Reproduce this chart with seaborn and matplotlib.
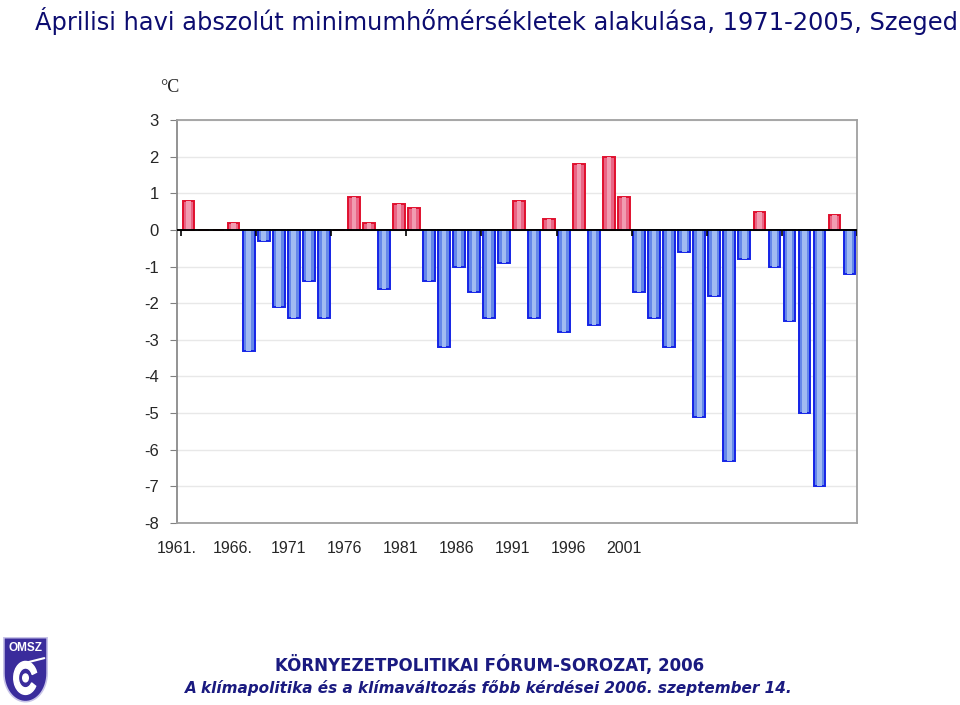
import matplotlib
matplotlib.use("Agg")
import matplotlib.pyplot as plt
from matplotlib.patches import Polygon, Circle, Wedge
import numpy as np
import pandas as pd
import seaborn as sns

# Áprilisi abszolút minimumok, Szeged (°C)
years = list(range(1961, 2006))
tmin = [0.8, 0.0, 0.0, 0.2, -3.3, -0.3, -2.1, -2.4, -1.4, -2.4,
        0.0, 0.9, 0.2, -1.6, 0.7, 0.6, -1.4, -3.2, -1.0, -1.7,
        -2.4, -0.9, 0.8, -2.4, 0.3, -2.8, 1.8, -2.6, 2.0, 0.9,
        -1.7, -2.4, -3.2, -0.6, -5.1, -1.8, -6.3, -0.8, 0.5, -1.0,
        -2.5, -5.0, -7.0, 0.4, -1.2]
x_labels = ["1961.", "1966.", "1971", "1976", "1981", "1986", "1991", "1996", "2001"]
y_ticks = list(range(-8, 4))

title = "Áprilisi havi abszolút minimumhőmérsékletek alakulása, 1971-2005, Szeged"
footer1 = "KÖRNYEZETPOLITIKAI FÓRUM-SOROZAT, 2006"
footer2 = "A klímapolitika és a klímaváltozás főbb kérdései 2006. szeptember 14."

df = pd.DataFrame({"year": [str(y) for y in years], "tmin": tmin})
df["sign"] = np.where(df["tmin"] >= 0, "pos", "neg")

sns.set_style("white")
plt.rcParams['font.family'] = ['Liberation Sans', 'DejaVu Sans']
plt.rcParams['axes.unicode_minus'] = False

W, H = 960, 705
fig = plt.figure(figsize=(9.6, 7.05), dpi=100)
ax = fig.add_axes([177 / W, 1 - 523 / H, 680 / W, 403 / H])

# alap oszlopok + világosabb középcsík (Excel-szerű árnyalás)
sns.barplot(data=df, x="year", y="tmin", hue="sign", dodge=False,
            palette={"pos": "#ff4f7a", "neg": "#4f7cff"}, width=0.78,
            errorbar=None, legend=False, linewidth=1.4, ax=ax, zorder=2)
for p in ax.patches:
    p.set_edgecolor("#e0102e" if p.get_height() >= 0 else "#1424e6")
sns.barplot(data=df, x="year", y="tmin", hue="sign", dodge=False,
            palette={"pos": "#ff8eaa", "neg": "#94b6ff"}, width=0.3,
            errorbar=None, legend=False, linewidth=0, ax=ax, zorder=3)

ax.set_xlim(-0.5, len(years) - 0.5)
ax.set_ylim(-8, 3)
ax.set_yticks(y_ticks)
ax.yaxis.grid(True, color="#e8e8e8", lw=1)
ax.set_axisbelow(True)
ax.axhline(0, color="black", lw=1.4, zorder=4)
ax.vlines(np.arange(-0.5, len(years), 5), -0.17, 0, color="black", lw=1.2, zorder=4)

# a feliratok az eredeti ábrán nem esnek egybe az oszlopokkal
ax.set_xticks(np.arange(len(x_labels)) * 3.72 - 0.77, x_labels)
ax.tick_params(axis="x", length=0, pad=13, labelsize=11.5)
ax.tick_params(axis="y", length=5, color="#808080", left=True, pad=8, labelsize=12)
ax.set_xlabel("")
ax.set_ylabel("")
for s in ax.spines.values():
    s.set_color("#a0a0a0")
    s.set_linewidth(1.3)
ax.spines["left"].set_color("#8a8a8a")

fig.text(170 / W, 1 - 88 / H, "°C", ha="center", va="center",
         family="Liberation Serif", fontsize=13)

fig.text(35 / W, 1 - 21 / H, title, ha="left", va="center",
         family="DejaVu Sans", fontsize=17.4, color="#0c0c70")
fig.text(490 / W, 1 - 665 / H, footer1, ha="center", va="center",
         family="DejaVu Sans", fontsize=12, weight="bold", color="#1a1a80")
fig.text(489 / W, 1 - 688 / H, footer2, ha="center", va="center",
         family="DejaVu Sans", fontsize=11, weight="bold", style="italic", color="#1a1a80")

# OMSZ logó (egyszerűsített pajzs)
lax = fig.add_axes([2 / W, 1 - 703 / H, 47 / W, 66 / H])
lax.set_xlim(0, 1)
lax.set_ylim(0, 1)
lax.axis("off")
t = np.linspace(np.pi, 2 * np.pi, 30)
shield = [(0.04, 0.99), (0.96, 0.99), (0.96, 0.45)]
shield += list(zip(0.5 + 0.46 * np.cos(t[::-1]), 0.45 + 0.43 * np.sin(t[::-1])))
shield += [(0.04, 0.45)]
lax.add_patch(Polygon(shield, closed=True, fc="#3a2c9c", ec="#c8c4e8", lw=1.2))
lax.text(0.5, 0.83, "OMSZ", ha="center", va="center", color="white",
         fontsize=8.5, weight="bold")
lax.add_patch(Wedge((0.5, 0.38), 0.25, 20, 330, width=0.1, color="white"))
lax.add_patch(Circle((0.5, 0.38), 0.06, color="white"))
lax.plot([0.45, 0.9], [0.6, 0.68], color="white", lw=1.5)

fig.savefig("out.png", dpi=100)
